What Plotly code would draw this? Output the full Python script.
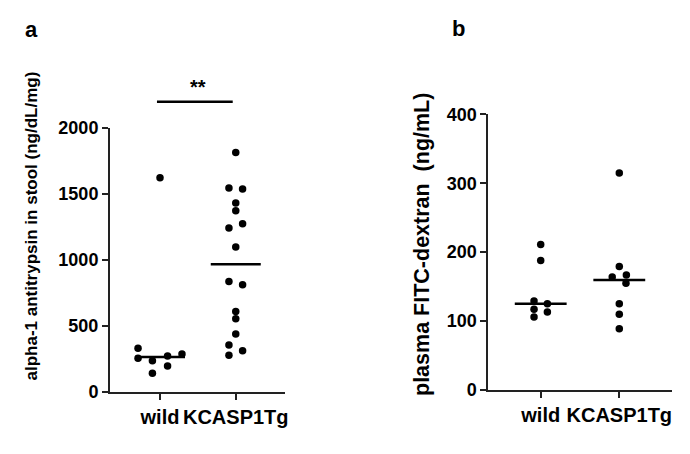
import numpy as np
import plotly.graph_objects as go

# ---------------- data ----------------
categories = ["wild", "KCASP1Tg"]

# panel a: alpha-1 antitrypsin in stool (ng/dL/mg)
a_wild = [1620, 329, 253, 235, 271, 286, 195, 140]
a_wild_jitter = [0.0, -0.29, -0.29, -0.10, 0.10, 0.29, 0.10, -0.10]
a_tg = [1813, 1543, 1536, 1430, 1371, 1272, 1240, 1096,
        835, 810, 607, 552, 438, 354, 276, 311]
a_tg_jitter = [0.0, -0.09, 0.09, 0.0, 0.0, 0.09, -0.09, 0.0,
               -0.09, 0.09, 0.0, 0.0, 0.0, -0.09, -0.09, 0.09]
a_ticks = [0, 500, 1000, 1500, 2000]

# panel b: plasma FITC-dextran (ng/mL)
b_wild = [211, 188, 129, 125, 117, 113, 106]
b_wild_jitter = [0.0, 0.0, -0.085, 0.085, -0.085, 0.085, -0.085]
b_tg = [315, 179, 164, 167, 155, 125, 110, 89]
b_tg_jitter = [0.0, 0.0, -0.09, 0.09, 0.085, 0.0, 0.0, 0.0]
b_ticks = [0, 100, 200, 300, 400]

W, H = 690, 454
OFF = 8  # page body margin offset
FONT = "Liberation Sans, Arial, sans-serif"

def px(x):
    return (x - OFF) / W

def py(y):
    return 1 - (y - OFF) / H

fig = go.Figure()

def add_group(xpos, vals, jit, xa, ya):
    fig.add_trace(go.Scatter(
        x=[xpos + j for j in jit], y=vals, mode="markers",
        marker=dict(color="black", size=7.5),
        xaxis=xa, yaxis=ya, showlegend=False, hoverinfo="y", cliponaxis=False))
    med = float(np.median(vals))
    fig.add_trace(go.Scatter(
        x=[xpos - 0.33, xpos + 0.33], y=[med, med], mode="lines",
        line=dict(color="black", width=2.5),
        xaxis=xa, yaxis=ya, showlegend=False, hoverinfo="skip"))

add_group(0, a_wild, a_wild_jitter, "x", "y")
add_group(1, a_tg, a_tg_jitter, "x", "y")
add_group(0, b_wild, b_wild_jitter, "x2", "y2")
add_group(1, b_tg, b_tg_jitter, "x2", "y2")

ytickfont = dict(family=FONT, size=18, color="black", weight="bold")
xtickfont = dict(family=FONT, size=20, color="black", weight="bold")
axis_common = dict(showline=True, linewidth=2, linecolor="#222",
                   ticks="outside", ticklen=6, tickwidth=2, tickcolor="#222",
                   showgrid=False, zeroline=False, automargin=False)

fig.update_layout(
    template="none",
    width=W, height=H,
    margin=dict(l=0, r=0, t=0, b=0, autoexpand=False),
    paper_bgcolor="white", plot_bgcolor="white",
    xaxis=dict(domain=[px(110), px(285)], range=[-0.66, 1.65],
               tickvals=[0, 1], ticktext=categories, anchor="y",
               tickfont=xtickfont, **axis_common),
    yaxis=dict(domain=[py(391.7), py(127.7)], range=[0, 2000],
               tickvals=a_ticks, anchor="x", tickfont=ytickfont, **axis_common),
    xaxis2=dict(domain=[px(488.3), px(671.7)], range=[-0.667, 1.667],
                tickvals=[0, 1], ticktext=categories, anchor="y2",
                tickfont=xtickfont, **axis_common),
    yaxis2=dict(domain=[py(390), py(114.3)], range=[0, 400],
                tickvals=b_ticks, anchor="x2", tickfont=ytickfont, **axis_common),
)

# significance bar for panel a
fig.add_shape(type="line", xref="x", yref="y domain",
              x0=-0.04, x1=0.96, y0=1.0985, y1=1.0985,
              line=dict(color="black", width=2.5))
fig.add_annotation(text="<b>**</b>", xref="x", yref="y domain", x=0.5, y=1.105,
                   yanchor="bottom", xanchor="center", showarrow=False,
                   font=dict(family=FONT, size=20, color="black"))

# axis titles
fig.add_annotation(text="<b>alpha-1 antitrypsin in stool (ng/dL/mg)</b>",
                   xref="paper", yref="paper", x=px(31), y=py(226.5),
                   xanchor="center", yanchor="middle",
                   textangle=-90, showarrow=False,
                   font=dict(family=FONT, size=17, color="black"))
fig.add_annotation(text="<b>plasma FITC-dextran  (ng/mL)</b>",
                   xref="paper", yref="paper", x=px(422), y=py(245),
                   xanchor="center", yanchor="middle",
                   textangle=-90, showarrow=False,
                   font=dict(family=FONT, size=21.5, color="black"))

# panel letters
fig.add_annotation(text="<b>a</b>", xref="paper", yref="paper",
                   x=px(31), y=py(29), xanchor="center", yanchor="middle",
                   showarrow=False, font=dict(family=FONT, size=22, color="black"))
fig.add_annotation(text="<b>b</b>", xref="paper", yref="paper",
                   x=px(458), y=py(28), xanchor="center", yanchor="middle",
                   showarrow=False, font=dict(family=FONT, size=22, color="black"))

fig.write_html("out.html")
